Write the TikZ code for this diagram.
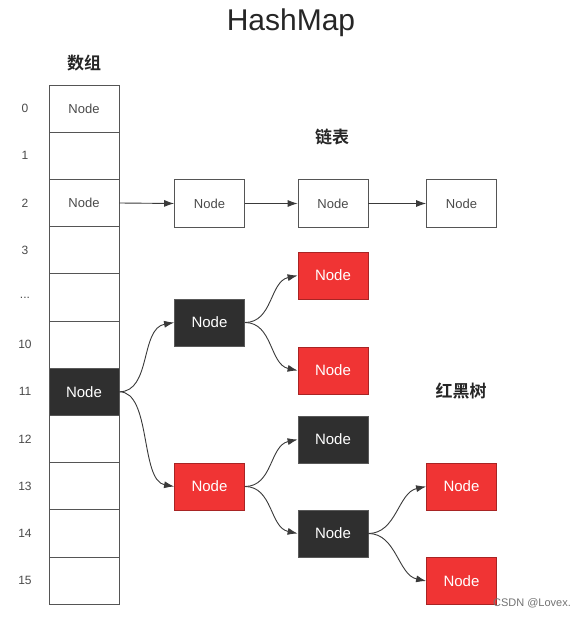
\documentclass[tikz,border=0pt]{standalone}
\usepackage{fontspec}
\setmainfont{Liberation Sans}
\newfontfamily\cjk{Noto Sans CJK SC}[BoldFont={* Bold}]
\usetikzlibrary{arrows.meta}
\definecolor{boxline}{HTML}{555555}
\definecolor{txtgray}{HTML}{4A4A4A}
\definecolor{darkfill}{HTML}{2F2F2F}
\definecolor{redfill}{HTML}{F03434}
\definecolor{edgecol}{HTML}{3A3A3A}
\tikzset{
  x=1pt, y=-1pt,
  cell/.style={draw=boxline, line width=0.8pt, minimum width=70pt, minimum height=47.2pt, inner sep=0pt, font=\fontsize{13}{15}\selectfont, text=txtgray},
  listbox/.style={cell},
  darkbox/.style={cell, fill=darkfill, draw=darkfill!80!white, text=white, font=\fontsize{15}{17}\selectfont},
  redbox/.style={cell, fill=redfill, draw=redfill!70!black, text=white, font=\fontsize{15}{17}\selectfont},
  idx/.style={font=\fontsize{12}{14}\selectfont, text=txtgray},
  conn/.style={draw=edgecol, line width=0.9pt, -{Latex[length=10pt,width=7pt]}},
  heading/.style={font=\cjk\bfseries\fontsize{17}{19}\selectfont, text=black!85}
}
\begin{document}
\begin{tikzpicture}
\useasboundingbox (0,0) rectangle (585,617);
\fill[white] (0,0) rectangle (585,617);
\node[font=\fontsize{30}{34}\selectfont, text=black!85] (title) at (291,23) {HashMap};
\node[heading] (arrlabel) at (84,63) {数组};
\node[heading] (listlabel) at (332,137) {链表};
\node[heading] (treelabel) at (461,391) {红黑树};
% array cells
\node[cell] (a0) at (84,108.6) {Node};
\node[cell] (a1) at (84,155.8) {};
\node[cell] (a2) at (84,203.0) {Node};
\node[cell] (a3) at (84,250.2) {};
\node[cell] (a4) at (84,297.4) {};
\node[cell] (a10) at (84,344.6) {};
\node[darkbox] (a11) at (84,391.8) {Node};
\node[cell] (a12) at (84,439.0) {};
\node[cell] (a13) at (84,486.2) {};
\node[cell] (a14) at (84,533.4) {};
\node[cell] (a15) at (84,580.6) {};
% indices
\node[idx] (i0) at (25,108.6) {0};
\node[idx] (i1) at (25,155.8) {1};
\node[idx] (i2) at (25,203.0) {2};
\node[idx] (i3) at (25,250.2) {3};
\node[idx] (i4) at (25,297.4) {...};
\node[idx] (i10) at (25,344.6) {10};
\node[idx] (i11) at (25,391.8) {11};
\node[idx] (i12) at (25,439.0) {12};
\node[idx] (i13) at (25,486.2) {13};
\node[idx] (i14) at (25,533.4) {14};
\node[idx] (i15) at (25,580.6) {15};
% linked list
\node[listbox] (l1) at (209.5,203.5) {Node};
\node[listbox] (l2) at (333,203.5) {Node};
\node[listbox] (l3) at (461.5,203.5) {Node};
\draw[conn] (a2.east) -- (l1.west);
\draw[conn] (l1.east) -- (l2.west);
\draw[conn] (l2.east) -- (l3.west);
% tree
\node[darkbox] (t1) at (209.5,322.5) {Node};
\node[redbox] (t2) at (333,275.5) {Node};
\node[redbox] (t3) at (333,370.5) {Node};
\node[redbox] (t4) at (209.5,486.5) {Node};
\node[darkbox] (t5) at (333,439.5) {Node};
\node[darkbox] (t6) at (333,533.5) {Node};
\node[redbox] (t7) at (461.5,486.5) {Node};
\node[redbox] (t8) at (461.5,581) {Node};
\draw[conn] (a11.east) .. controls +(32,0) and +(-34,6) .. (t1.west);
\draw[conn] (a11.east) .. controls +(32,0) and +(-34,-6) .. (t4.west);
\draw[conn] (t1.east) .. controls +(28,0) and +(-28,6) .. (t2.west);
\draw[conn] (t1.east) .. controls +(28,0) and +(-28,-6) .. (t3.west);
\draw[conn] (t4.east) .. controls +(28,0) and +(-28,6) .. (t5.west);
\draw[conn] (t4.east) .. controls +(28,0) and +(-28,-6) .. (t6.west);
\draw[conn] (t6.east) .. controls +(28,0) and +(-28,6) .. (t7.west);
\draw[conn] (t6.east) .. controls +(28,0) and +(-28,-6) .. (t8.west);
\node[font=\fontsize{11}{13}\selectfont, text=black!55] (wm) at (532,603) {CSDN @Lovex.};
\end{tikzpicture}
\end{document}
